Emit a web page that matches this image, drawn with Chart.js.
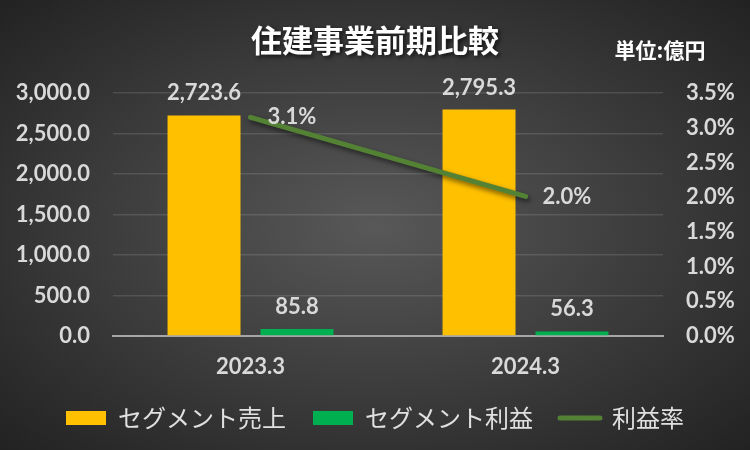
<!DOCTYPE html>
<html>
<head>
<meta charset="utf-8">
<script src="https://cdn.jsdelivr.net/npm/chart.js@4.4.0/dist/chart.umd.min.js"></script>
<style>
html,body{margin:0;padding:0;}
body{width:750px;height:450px;background:radial-gradient(ellipse farthest-corner at 50% 50%, #585858 0%, #222 100%);}
canvas{display:block;}
</style>
</head>
<body>
<canvas id="c" width="750" height="450"></canvas>
<script>
// data
const categories = ['2023.3', '2024.3'];
const sales = [2723.6, 2795.3];      // セグメント売上 (億円)
const profit = [85.8, 56.3];         // セグメント利益 (億円)
const margin = [3.15, 2.01];         // 利益率 (%)
const seriesNames = ['セグメント売上', 'セグメント利益', '利益率'];
const titleText = '住建事業前期比較';
const unitText = '単位:億円';

const NUM_FONT = "Lato, 'Noto Sans CJK JP', sans-serif";
const JP_FONT = "'Noto Sans CJK JP', sans-serif";
const TXT = '#d9d9d9';

// title + unit label
const headerText = {
  id: 'headerText',
  afterDraw(chart) {
    const ctx = chart.ctx;
    ctx.save();
    ctx.fillStyle = '#ffffff';
    ctx.textAlign = 'center';
    ctx.textBaseline = 'middle';
    ctx.shadowColor = 'rgba(0,0,0,0.7)';
    ctx.shadowBlur = 4;
    ctx.shadowOffsetX = 2;
    ctx.shadowOffsetY = 2;
    ctx.font = 'bold 31px ' + JP_FONT;
    ctx.fillText(titleText, 375, 40);
    ctx.shadowColor = 'transparent';
    ctx.font = 'bold 21px ' + JP_FONT;
    ctx.fillText(unitText, 660, 50);
    ctx.restore();
  }
};

// shadow under the line
const lineShadow = {
  id: 'lineShadow',
  beforeDatasetDraw(chart, args) {
    if (args.meta.type !== 'line') return;
    const ctx = chart.ctx;
    ctx.save();
    ctx.shadowColor = 'rgba(0,0,0,0.55)';
    ctx.shadowBlur = 5;
    ctx.shadowOffsetX = 2;
    ctx.shadowOffsetY = 3;
  },
  afterDatasetDraw(chart, args) {
    if (args.meta.type !== 'line') return;
    chart.ctx.restore();
  }
};

// value labels (no datalabels plugin available)
const valueLabels = {
  id: 'valueLabels',
  afterDatasetsDraw(chart) {
    const ctx = chart.ctx;
    ctx.save();
    ctx.fillStyle = TXT;
    ctx.font = 'bold 22px ' + NUM_FONT;
    chart.data.datasets.forEach((ds, i) => {
      const meta = chart.getDatasetMeta(i);
      meta.data.forEach((el, j) => {
        const v = ds.data[j];
        if (meta.type === 'line') {
          ctx.textAlign = 'left';
          ctx.textBaseline = 'middle';
          ctx.fillText(v.toFixed(1) + '%', el.x + 17, el.y);
        } else {
          ctx.textAlign = 'center';
          ctx.textBaseline = 'alphabetic';
          ctx.fillText(v.toLocaleString('en-US', {minimumFractionDigits: 1, maximumFractionDigits: 1}), el.x, el.y - 15);
        }
      });
    });
    ctx.restore();
  }
};

const tickFont = { family: NUM_FONT, size: 22, weight: 'bold' };

new Chart(document.getElementById('c'), {
  data: {
    labels: categories,
    datasets: [
      {
        type: 'bar', label: seriesNames[0], data: sales, yAxisID: 'y',
        backgroundColor: '#ffc000', borderWidth: 0, order: 2,
        categoryPercentage: 0.676, barPercentage: 0.785
      },
      {
        type: 'bar', label: seriesNames[1], data: profit, yAxisID: 'y',
        backgroundColor: '#00b050', borderWidth: 0, order: 3,
        categoryPercentage: 0.676, barPercentage: 0.785
      },
      {
        type: 'line', label: seriesNames[2], data: margin, yAxisID: 'y1',
        borderColor: '#548235', backgroundColor: '#548235', borderWidth: 5,
        borderCapStyle: 'round', pointRadius: 0, pointHoverRadius: 0,
        tension: 0, order: 1
      }
    ]
  },
  options: {
    responsive: false,
    animation: false,
    layout: { padding: { top: 93, left: 10, right: 10, bottom: 10 } },
    scales: {
      x: {
        grid: { display: false },
        border: { display: true, color: '#a6a6a6', width: 2 },
        ticks: { color: TXT, font: tickFont, padding: 10 },
        afterFit: s => { s.height = 43; }
      },
      y: {
        position: 'left', min: 0, max: 3000,
        grid: { color: 'rgba(255,255,255,0.12)', lineWidth: 1.5, drawTicks: false },
        border: { display: false },
        ticks: {
          stepSize: 500, color: TXT, padding: 23, font: tickFont,
          callback: v => v.toLocaleString('en-US', {minimumFractionDigits: 1, maximumFractionDigits: 1})
        },
        afterFit: s => { s.width = 103; }
      },
      y1: {
        position: 'right', min: 0, max: 3.5,
        grid: { display: false, drawTicks: false },
        border: { display: false },
        ticks: {
          stepSize: 0.5, color: TXT, padding: 23, font: tickFont,
          callback: v => v.toFixed(1) + '%'
        },
        afterFit: s => { s.width = 77; }
      }
    },
    plugins: {
      title: { display: false },
      tooltip: { enabled: false },
      legend: {
        position: 'bottom',
        labels: {
          color: '#e0e0e0',
          font: { family: JP_FONT, size: 24 },
          usePointStyle: true,
          pointStyleWidth: 40,
          boxHeight: 14,
          padding: 27,
          sort: (a, b) => a.datasetIndex - b.datasetIndex,
          generateLabels(chart) {
            const items = Chart.defaults.plugins.legend.labels.generateLabels(chart);
            items.forEach(it => {
              const ds = chart.data.datasets[it.datasetIndex];
              if (ds.type === 'line') {
                it.pointStyle = 'line';
                it.lineWidth = 5;
                it.strokeStyle = ds.borderColor;
                it.lineCap = 'round';
              } else {
                it.pointStyle = 'rect';
                it.lineWidth = 0;
              }
            });
            return items;
          }
        }
      }
    }
  },
  plugins: [headerText, lineShadow, valueLabels]
});
</script>
</body>
</html>
